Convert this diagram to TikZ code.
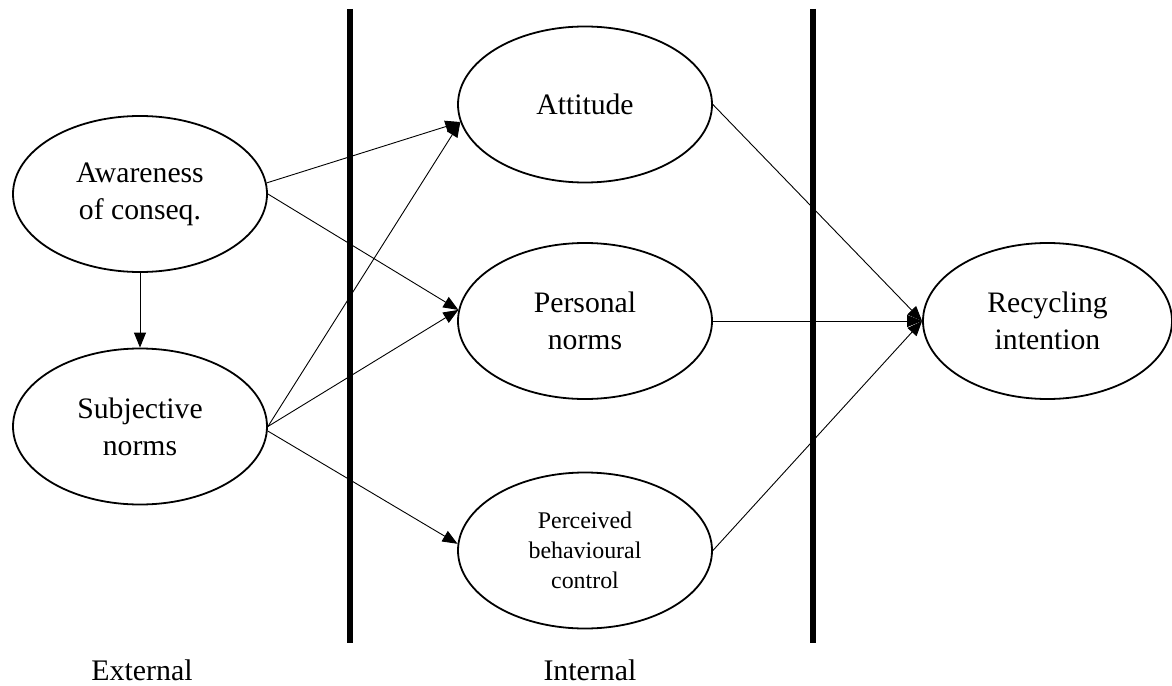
\documentclass[tikz,border=0pt]{standalone}
\usepackage{fontspec}
\setmainfont{Liberation Serif}
\usetikzlibrary{arrows.meta,shapes.geometric}
\begin{document}
\begin{tikzpicture}[x=1bp,y=-1bp,
  oval/.style={ellipse,draw,line width=1.8bp,minimum width=254bp,minimum height=156bp,inner sep=0pt,align=center,font=\fontsize{29.8}{37}\selectfont},
  smalloval/.style={oval,font=\fontsize{24}{30}\selectfont},
  conn/.style={line width=0.9bp,-{Triangle[length=15bp,width=12bp]}},
  divider/.style={line width=6bp},
  lbl/.style={font=\fontsize{30}{37}\selectfont,inner sep=0pt,anchor=base}]
\useasboundingbox (0,0) rectangle (1172,686);
\fill[white] (0,0) rectangle (1172,686);
% dividers
\coordinate (d1t) at (350,9);
\coordinate (d1b) at (350,643);
\coordinate (d2t) at (813,9);
\coordinate (d2b) at (813,643);
\draw[divider] (d1t) -- (d1b);
\draw[divider] (d2t) -- (d2b);
% nodes
\node[oval] (aw) at (140,194) {Awareness\\of conseq.};
\node[oval] (sn) at (140,426.5) {Subjective\\norms};
\node[oval] (att) at (585,104.5) {Attitude};
\node[oval] (pn) at (585,321) {Personal\\norms};
\node[smalloval] (pbc) at (585,550.5) {Perceived\\behavioural\\control};
\node[oval,minimum width=249bp] (ri) at (1047.5,321) {Recycling\\intention};
% labels
\node[lbl] (ext) at (142,680) {External};
\node[lbl] (int) at (590,680) {Internal};
% connectors
\draw[conn] (aw.south) -- (sn.north);
\draw[conn] (aw.5) -- (att.188);
\draw[conn] (aw.east) -- (pn.175);
\draw[conn] (sn.east) -- (att.188);
\draw[conn] (sn.east) -- (pn.175);
\draw[conn] (sn.358) -- (pbc.177);
\draw[conn] (att.east) -- (ri.west);
\draw[conn] (pn.east) -- (ri.west);
\draw[conn] (pbc.east) -- (ri.west);
\end{tikzpicture}
\end{document}
